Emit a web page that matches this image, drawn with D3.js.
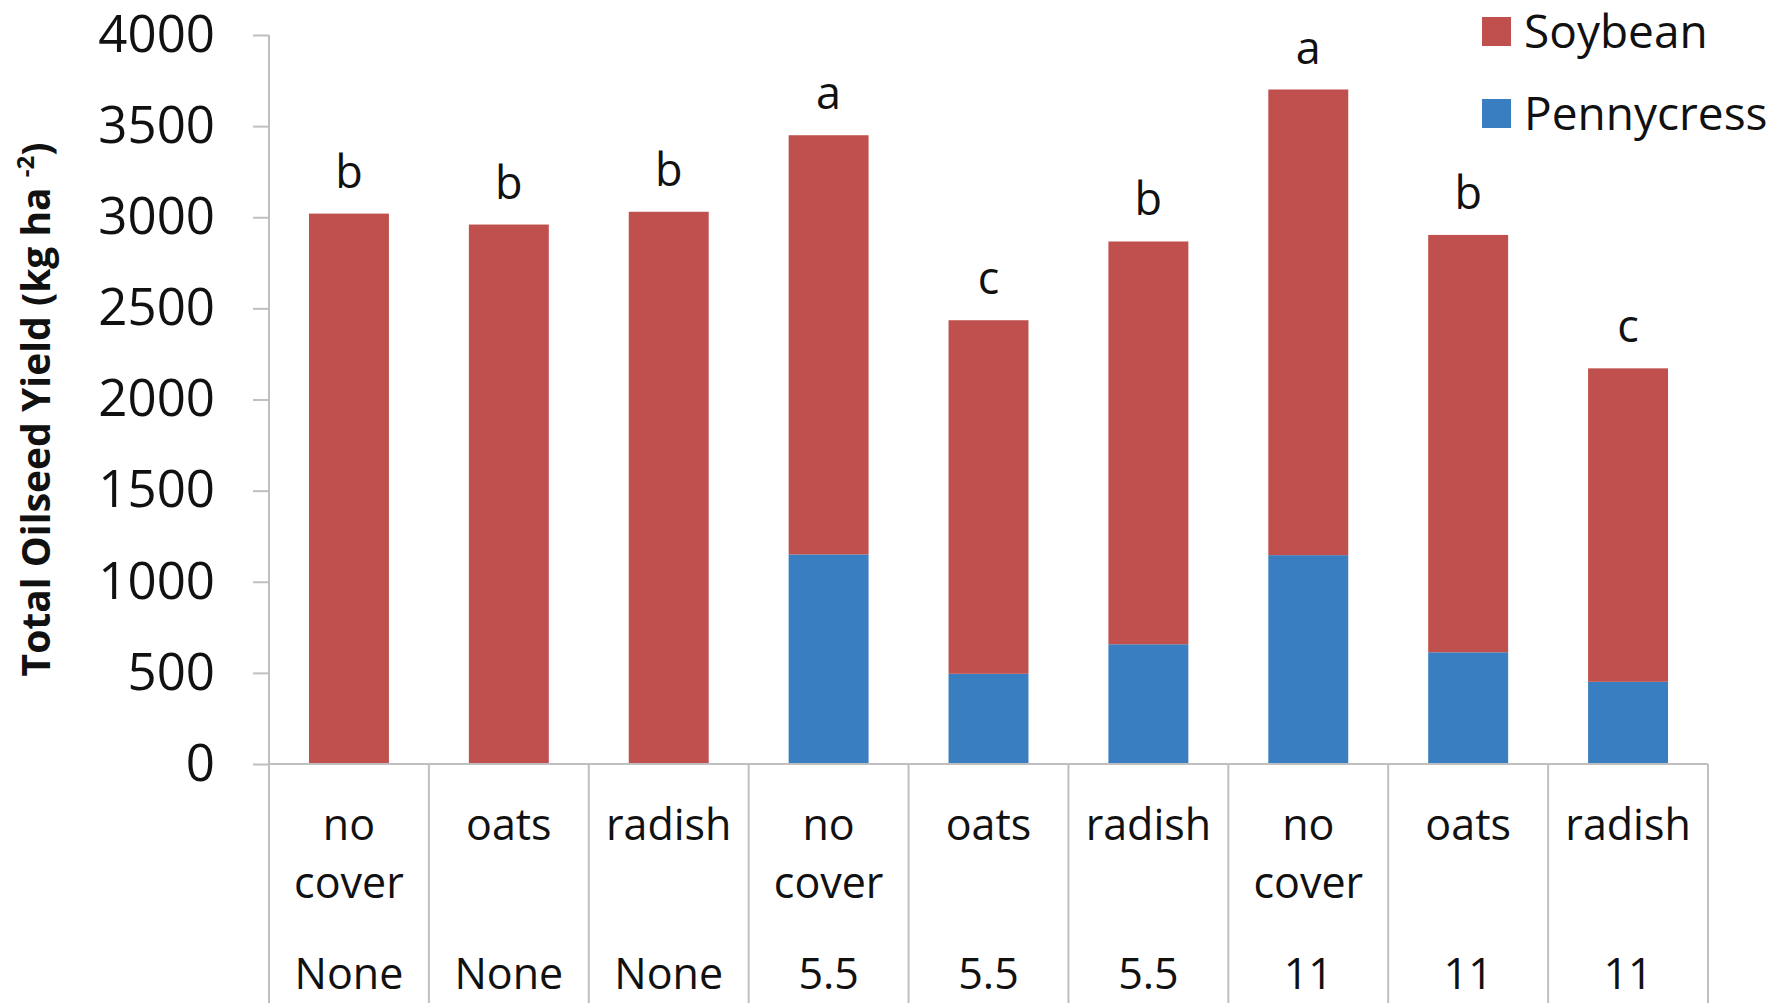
<!DOCTYPE html>
<html>
<head>
<meta charset="utf-8">
<script src="https://cdn.jsdelivr.net/npm/d3@7"></script>
<style>
  html, body { margin: 0; padding: 0; background: #fff; }
  svg { display: block; font-family: "Open Sans", "Noto Sans", sans-serif; }
</style>
</head>
<body>
<svg width="1787" height="1003"></svg>
<script>
// data
let covers = ["no cover", "oats", "radish", "no cover", "oats", "radish", "no cover", "oats", "radish"];
let rates = ["None", "None", "None", "5.5", "5.5", "5.5", "11", "11", "11"];
let pennycress = [0, 0, 0, 1150, 495, 657, 1146, 613, 451];
let soybean = [3020, 2960, 3030, 2300, 1940, 2210, 2555, 2290, 1720];
let letters = ["b", "b", "b", "a", "c", "b", "a", "b", "c"];
let yTicks = [0, 500, 1000, 1500, 2000, 2500, 3000, 3500, 4000];
let seriesNames = ["Soybean", "Pennycress"];

let svg = d3.select("svg"),
    margin = {top: 35, right: 79, bottom: 239, left: 269},
    width = +svg.attr("width") - margin.left - margin.right,
    height = +svg.attr("height") - margin.top - margin.bottom;

let colors = {Soybean: "#c0504d", Pennycress: "#3a7ec2"};
let axisColor = "#bfbfbf";

let rows = covers.map(function(c, i) {
  return {i: i, cover: c, rate: rates[i], Pennycress: pennycress[i], Soybean: soybean[i], letter: letters[i]};
});

let x = d3.scaleBand()
    .domain(d3.range(covers.length))
    .range([0, width])
    .paddingInner(0.5)
    .paddingOuter(0.25);

let y = d3.scaleLinear().domain([0, 4000]).range([height, 0]);

let stack = d3.stack().keys(["Pennycress", "Soybean"]);
let layers = stack(rows);

let focus = svg.append("g")
    .attr("transform", "translate(" + margin.left + "," + margin.top + ")");

// bars
focus.selectAll("g.layer")
  .data(layers)
  .enter().append("g")
    .attr("class", "layer")
    .attr("fill", function(d) { return colors[d.key]; })
  .selectAll("rect")
  .data(function(d) { return d; })
  .enter().append("rect")
    .attr("x", function(d, i) { return x(i); })
    .attr("width", x.bandwidth())
    .attr("y", function(d) { return y(d[1]); })
    .attr("height", function(d) { return y(d[0]) - y(d[1]); });

// y axis
let yAxis = d3.axisLeft(y).tickValues(yTicks).tickFormat(d3.format("d")).tickSize(16).tickPadding(38);
let gy = focus.append("g").call(yAxis);
gy.select(".domain").remove();
gy.selectAll(".tick line").attr("stroke", axisColor).attr("stroke-width", 2);
gy.selectAll(".tick text")
    .attr("font-size", 51)
    .attr("fill", "#111")
    .attr("font-family", "Open Sans");

focus.append("line")
    .attr("x1", 0).attr("x2", 0)
    .attr("y1", 0).attr("y2", height)
    .attr("stroke", axisColor).attr("stroke-width", 2);

focus.append("line")
    .attr("x1", 0).attr("x2", width)
    .attr("y1", height).attr("y2", height)
    .attr("stroke", axisColor).attr("stroke-width", 2);

// category dividers
let step = x.step();
focus.selectAll("line.div")
  .data(d3.range(covers.length + 1))
  .enter().append("line")
    .attr("class", "div")
    .attr("x1", function(d) { return d * step; })
    .attr("x2", function(d) { return d * step; })
    .attr("y1", height)
    .attr("y2", height + margin.bottom)
    .attr("stroke", axisColor).attr("stroke-width", 2);

// category labels
let cat = focus.selectAll("g.cat")
  .data(rows)
  .enter().append("g")
    .attr("class", "cat")
    .attr("transform", function(d) { return "translate(" + (x(d.i) + x.bandwidth() / 2) + "," + height + ")"; });

cat.each(function(d) {
  let g = d3.select(this);
  d.cover.split(" ").forEach(function(w, k) {
    g.append("text")
      .attr("y", 76 + k * 58)
      .attr("text-anchor", "middle")
      .attr("font-size", 43)
      .attr("fill", "#111")
      .text(w);
  });
  g.append("text")
    .attr("y", 225)
    .attr("text-anchor", "middle")
    .attr("font-size", 43)
    .attr("fill", "#111")
    .text(d.rate);
});

// significance letters
focus.selectAll("text.letter")
  .data(rows)
  .enter().append("text")
    .attr("class", "letter")
    .attr("x", function(d) { return x(d.i) + x.bandwidth() / 2; })
    .attr("y", function(d) { return y(d.Soybean + d.Pennycress) - 26; })
    .attr("text-anchor", "middle")
    .attr("font-size", 45)
    .attr("fill", "#111")
    .text(function(d) { return d.letter; });

// legend
let legend = svg.append("g").attr("transform", "translate(1482,0)");
seriesNames.forEach(function(name, k) {
  let cy = 32 + k * 82;
  legend.append("rect")
    .attr("x", 0).attr("y", cy - 15)
    .attr("width", 29).attr("height", 29)
    .attr("fill", colors[name]);
  legend.append("text")
    .attr("x", 42).attr("y", cy)
    .attr("dy", "0.35em")
    .attr("font-size", 46)
    .attr("fill", "#111")
    .text(name);
});

// y axis title
let title = svg.append("text")
    .attr("transform", "translate(50," + (margin.top + height / 2 + 10) + ") rotate(-90)")
    .attr("text-anchor", "middle")
    .attr("font-size", 39)
    .attr("font-weight", "bold")
    .attr("fill", "#111");
title.append("tspan").text("Total Oilseed Yield (kg ha ");
title.append("tspan").attr("font-size", 24).attr("baseline-shift", "super").text("-2");
title.append("tspan").text(")");
</script>
</body>
</html>
